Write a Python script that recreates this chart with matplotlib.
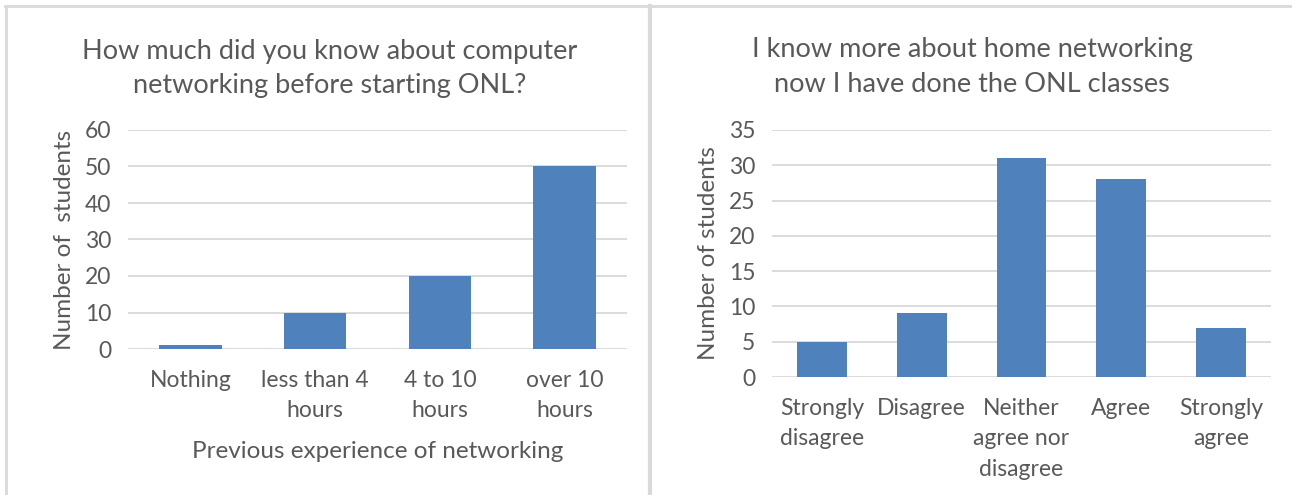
import matplotlib.pyplot as plt
from matplotlib.lines import Line2D

plt.rcParams['font.family'] = ['Lato', 'DejaVu Sans']

left_cats = ['Nothing', 'less than 4\nhours', '4 to 10\nhours', 'over 10\nhours']
left_vals = [1, 10, 20, 50]
right_cats = ['Strongly\ndisagree', 'Disagree', 'Neither\nagree nor\ndisagree', 'Agree', 'Strongly\nagree']
right_vals = [5, 9, 31, 28, 7]

W, H = 1292, 495
bar_col = '#4f81bd'
txt = '#595959'
grid = '#d9d9d9'

fig = plt.figure(figsize=(W / 100, H / 100), dpi=100)


def px_axes(x0, y0, x1, y1):
    return fig.add_axes([x0 / W, 1 - y1 / H, (x1 - x0) / W, (y1 - y0) / H])


def style(ax, ymax, step):
    ax.set_ylim(0, ymax)
    ax.set_yticks(range(0, ymax + 1, step))
    for s in ax.spines.values():
        s.set_visible(False)
    ax.grid(axis='y', color=grid, linewidth=1.3)
    ax.set_axisbelow(True)
    ax.tick_params(length=0, labelsize=16.5, colors=txt)
    ax.tick_params(axis='y', pad=12)
    ax.tick_params(axis='x', pad=15)
    for lab in ax.get_xticklabels():
        lab.set_linespacing(1.55)


# left chart
ax1 = px_axes(128, 130, 627, 349)
ax1.bar(range(len(left_vals)), left_vals, width=0.5, color=bar_col)
ax1.set_xlim(-0.5, len(left_vals) - 0.5)
ax1.set_xticks(range(len(left_cats)))
ax1.set_xticklabels(left_cats)
style(ax1, 60, 10)
ax1.set_ylabel('Number of  students', fontsize=17.5, color=txt, labelpad=7)
ax1.set_xlabel('Previous experience of networking', fontsize=17.5, color=txt, labelpad=14)
fig.text(330 / W, 1 - 68 / H, 'How much did you know about computer\nnetworking before starting ONL?',
         ha='center', va='center', fontsize=19.5, color=txt, linespacing=1.45)

# right chart
ax2 = px_axes(772, 130, 1271, 377)
ax2.bar(range(len(right_vals)), right_vals, width=0.5, color=bar_col)
ax2.set_xlim(-0.5, len(right_vals) - 0.5)
ax2.set_xticks(range(len(right_cats)))
ax2.set_xticklabels(right_cats)
style(ax2, 35, 5)
ax2.set_ylabel('Number of students', fontsize=17.5, color=txt, labelpad=7)
fig.text(972 / W, 1 - 67 / H, 'I know more about home networking\nnow I have done the ONL classes',
         ha='center', va='center', fontsize=19.5, color=txt, linespacing=1.45)

# panel borders
fig.add_artist(Line2D([5 / W, 1], [1 - 6 / H, 1 - 6 / H], color=grid, linewidth=2))
fig.add_artist(Line2D([6 / W, 6 / W], [0, 1 - 6 / H], color=grid, linewidth=2))
fig.add_artist(Line2D([650 / W, 650 / W], [0, 1 - 6 / H], color=grid, linewidth=3))

fig.savefig('out.png', dpi=100)
